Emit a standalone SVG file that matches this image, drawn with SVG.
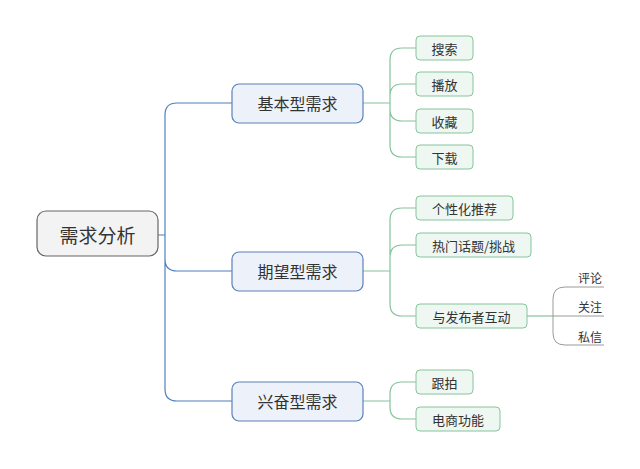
<svg xmlns="http://www.w3.org/2000/svg" width="640" height="469" viewBox="0 0 640 469">
<style>
text{font-family:"Microsoft YaHei","Noto Sans CJK SC","Noto Sans",sans-serif;fill:#333;text-anchor:middle;dominant-baseline:central}
.root rect{fill:#f3f3f3;stroke:#666;stroke-width:1.2}
.l1 rect{fill:#edf2fa;stroke:#5b80b6;stroke-width:1.2}
.l2 rect{fill:#eef7f1;stroke:#86c49c;stroke-width:1}
.blue{fill:none;stroke:#4f7fbd;stroke-width:1.2}
.green{fill:none;stroke:#86c49c;stroke-width:1.2}
.gray{fill:none;stroke:#9a9a9a;stroke-width:1}
</style>
<rect width="640" height="469" fill="#fff"/>
<g id="connectors">
<path class="blue" d="M158,235 H165 M165,235 V115 Q165,103 177,103 H232 M165,235 V259 Q165,271 177,271 H232 M165,235 V389 Q165,401 177,401 H232"/>
<path class="green" d="M363,103 H390 M390,103 V60 Q390,48 402,48 H416 M390,103 V96 Q390,84 402,84 H416 M390,103 V109 Q390,121 402,121 H416 M390,103 V145 Q390,157 402,157 H416"/>
<path class="green" d="M363,271 H390 M390,271 V220 Q390,208 402,208 H416 M390,271 V257 Q390,245 402,245 H416 M390,271 V304 Q390,316 402,316 H416"/>
<path class="green" d="M363,401 H390 M390,401 V394 Q390,382 402,382 H416 M390,401 V407 Q390,419 402,419 H416"/>
<path class="green" d="M527,316 H553"/>
<path class="gray" d="M553,316 V299 Q553,287 565,287 H604 M553,316 H604 M553,316 V333 Q553,345 565,345 H604"/>
</g>
<g id="root" class="root"><rect x="37" y="211" width="121" height="45" rx="9"/><text x="97.5" y="234" font-size="19">需求分析</text></g>
<g id="basic" class="l1"><rect x="232" y="84" width="131" height="39" rx="7"/><text x="297.5" y="103" font-size="16">基本型需求</text></g>
<g id="expect" class="l1"><rect x="232" y="252" width="131" height="39" rx="7"/><text x="297.5" y="271" font-size="16">期望型需求</text></g>
<g id="excite" class="l1"><rect x="232" y="382" width="131" height="39" rx="7"/><text x="297.5" y="401" font-size="16">兴奋型需求</text></g>
<g id="search" class="l2"><rect x="416" y="36" width="57" height="24" rx="4"/><text x="444.5" y="48" font-size="13">搜索</text></g>
<g id="play" class="l2"><rect x="416" y="72" width="57" height="24" rx="4"/><text x="444.5" y="84" font-size="13">播放</text></g>
<g id="collect" class="l2"><rect x="416" y="109" width="57" height="24" rx="4"/><text x="444.5" y="121" font-size="13">收藏</text></g>
<g id="download" class="l2"><rect x="416" y="145" width="57" height="24" rx="4"/><text x="444.5" y="157" font-size="13">下载</text></g>
<g id="recommend" class="l2"><rect x="416" y="196" width="97" height="24" rx="4"/><text x="464.5" y="208" font-size="13">个性化推荐</text></g>
<g id="topics" class="l2"><rect x="416" y="233" width="115" height="24" rx="4"/><text x="473.5" y="245" font-size="13">热门话题/挑战</text></g>
<g id="interact" class="l2"><rect x="416" y="304" width="111" height="24" rx="4"/><text x="471.5" y="316" font-size="13">与发布者互动</text></g>
<g id="comment"><text x="590" y="277" font-size="12">评论</text></g>
<g id="follow"><text x="590" y="306" font-size="12">关注</text></g>
<g id="message"><text x="590" y="336" font-size="12">私信</text></g>
<g id="follow-shoot" class="l2"><rect x="416" y="370" width="57" height="24" rx="4"/><text x="444.5" y="382" font-size="13">跟拍</text></g>
<g id="ecommerce" class="l2"><rect x="416" y="407" width="84" height="24" rx="4"/><text x="458" y="419" font-size="13">电商功能</text></g>
</svg>
